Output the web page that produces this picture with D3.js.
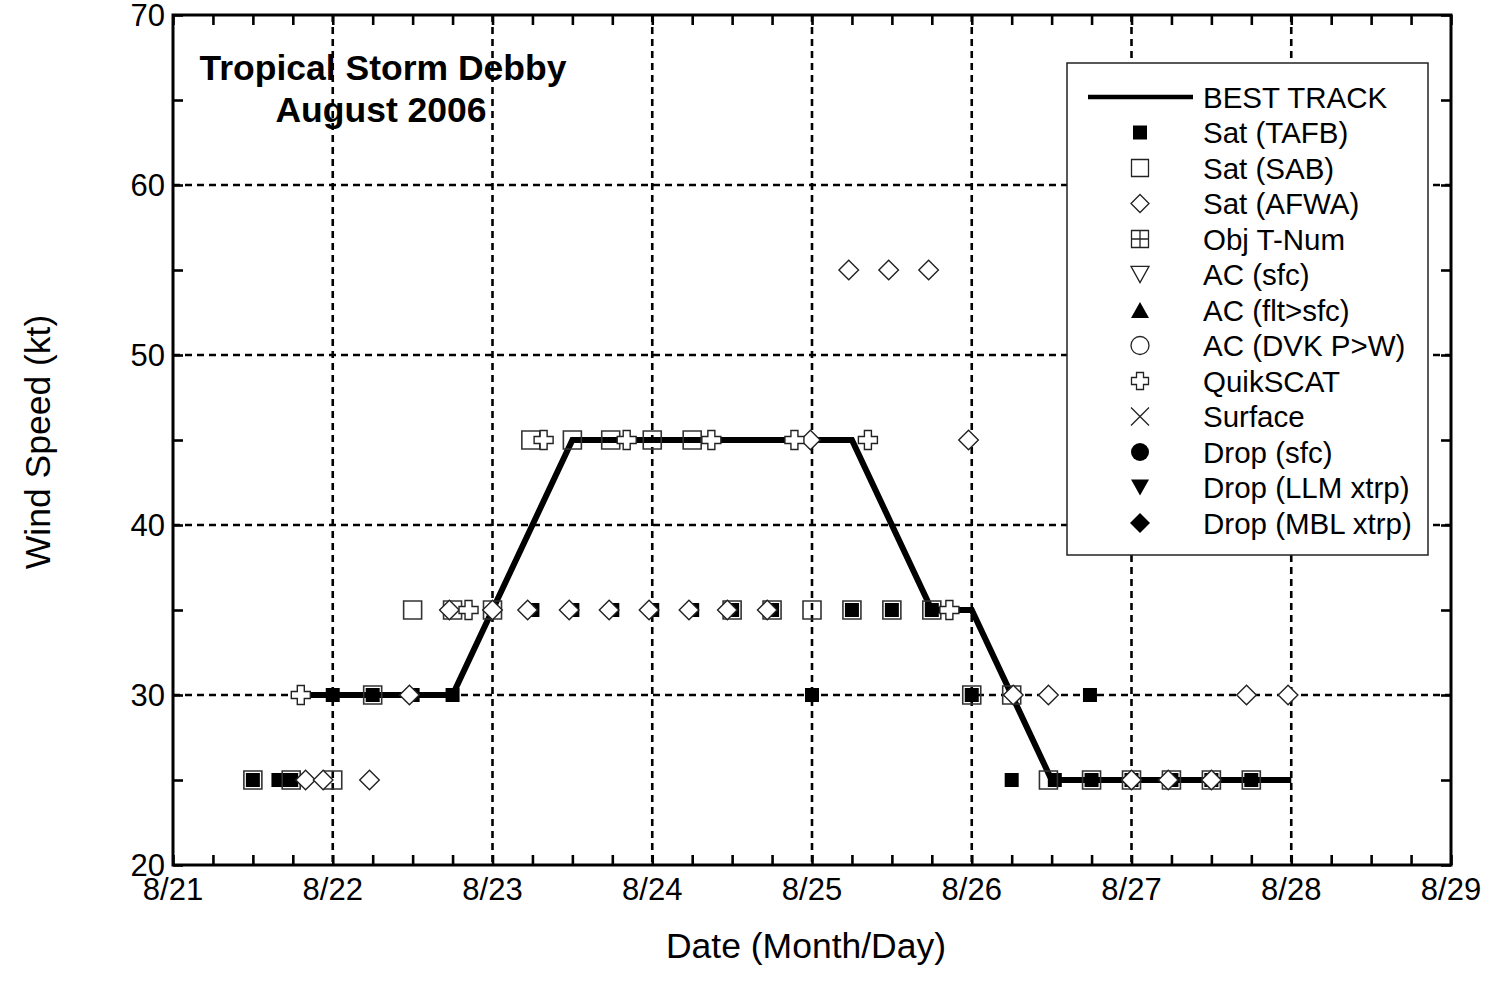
<!DOCTYPE html>
<html><head><meta charset="utf-8">
<script src="https://cdn.jsdelivr.net/npm/d3@7/dist/d3.min.js"></script>
<style>
html,body{margin:0;padding:0;background:#fff;}
svg text{font-family:"Liberation Sans",Arial,sans-serif;fill:#000;}
</style></head>
<body>
<svg id="chart" width="1494" height="998"></svg>
<script>
// ---- DATA (day of August 2006, wind speed kt) ----
const bestTrackDay = [21.75,22.0,22.25,22.5,22.75,23.0,23.25,23.5,23.75,24.0,24.25,24.5,24.75,25.0,25.25,25.5,25.75,26.0,26.25,26.5,26.75,27.0,27.25,27.5,27.75,28.0];
const bestTrackKt  = [30,30,30,30,30,35,40,45,45,45,45,45,45,45,45,40,35,35,30,25,25,25,25,25,25,25];

const tafbDay = [21.5,21.66,21.74,22.0,22.25,22.5,22.75,23.25,23.5,23.75,24.0,24.25,24.5,24.75,25.0,25.25,25.5,25.75,26.0,26.25,26.52,26.74,26.75,27.0,27.25,27.5,27.75];
const tafbKt  = [25,25,25,30,30,30,30,35,35,35,35,35,35,35,30,35,35,35,30,25,25,30,25,25,25,25,25];

const sabDay = [21.5,21.74,22.0,22.25,22.5,22.75,23.0,23.24,23.5,23.74,24.0,24.25,24.5,24.75,25.0,25.25,25.5,25.75,26.0,26.25,26.48,26.75,27.0,27.25,27.5,27.75];
const sabKt  = [25,25,25,30,35,35,35,45,45,45,45,45,35,35,35,35,35,35,30,30,25,25,25,25,25,25];

const afwaDay = [21.83,21.94,22.23,22.48,22.73,23.0,23.22,23.48,23.73,23.98,24.23,24.47,24.72,24.99,25.23,25.48,25.73,25.98,26.26,26.48,27.0,27.23,27.5,27.72,27.98];
const afwaKt  = [25,25,25,30,35,35,35,35,35,35,35,35,35,45,55,55,55,45,30,30,25,25,25,30,30];

const qscatDay = [21.80,22.85,23.32,23.84,24.37,24.89,25.35,25.86];
const qscatKt  = [30,35,45,45,45,45,45,35];

const xTickDays   = [21,22,23,24,25,26,27,28,29];
const xTickLabels = ["8/21","8/22","8/23","8/24","8/25","8/26","8/27","8/28","8/29"];
const yTicks      = [20,30,40,50,60,70];

const legendLabels = ["BEST TRACK","Sat (TAFB)","Sat (SAB)","Sat (AFWA)","Obj T-Num","AC (sfc)","AC (flt>sfc)","AC (DVK P>W)","QuikSCAT","Surface","Drop (sfc)","Drop (LLM xtrp)","Drop (MBL xtrp)"];
const titleLines = ["Tropical Storm Debby","August 2006"];

// ---- LAYOUT ----
const L=173, R=1451, T=15, B=865;
const svg = d3.select("#chart");
const x = d3.scaleLinear().domain([21,29]).range([L,R]);
const y = d3.scaleLinear().domain([20,70]).range([B,T]);

// grid
const g = svg.append("g");
g.selectAll("line.vg").data(xTickDays.slice(1,-1)).enter().append("line")
  .attr("x1",d=>x(d)).attr("x2",d=>x(d)).attr("y1",T).attr("y2",B)
  .attr("stroke","#000").attr("stroke-width",2.6).attr("stroke-dasharray","7,5");
g.selectAll("line.hg").data(yTicks.slice(1,-1)).enter().append("line")
  .attr("y1",d=>y(d)).attr("y2",d=>y(d)).attr("x1",L).attr("x2",R)
  .attr("stroke","#000").attr("stroke-width",2.6).attr("stroke-dasharray","7,5");

// ticks via axes
const minorX = d3.range(21,29.001,0.25);
const minorY = d3.range(20,70.001,5);
const axB = d3.axisBottom(x).tickValues(minorX).tickSize(-10).tickFormat("");
const axT = d3.axisTop(x).tickValues(minorX).tickSize(-10).tickFormat("");
const axL = d3.axisLeft(y).tickValues(minorY).tickSize(-10).tickFormat("");
const axR = d3.axisRight(y).tickValues(minorY).tickSize(-10).tickFormat("");
[[axB,`translate(0,${B})`],[axT,`translate(0,${T})`],[axL,`translate(${L},0)`],[axR,`translate(${R},0)`]].forEach(([a,tr])=>{
  const ag = svg.append("g").attr("transform",tr).call(a);
  ag.select(".domain").remove();
  ag.selectAll(".tick line").attr("stroke","#000").attr("stroke-width",2.6);
});

// tick labels
svg.append("g").selectAll("text").data(xTickDays).enter().append("text")
  .attr("x",d=>x(d)).attr("y",B+35).attr("text-anchor","middle").attr("font-size",31)
  .text((d,i)=>xTickLabels[i]);
svg.append("g").selectAll("text").data(yTicks).enter().append("text")
  .attr("x",L-8).attr("y",d=>y(d)+11).attr("text-anchor","end").attr("font-size",31)
  .text(d=>d);

// axis titles
svg.append("text").attr("x",806).attr("y",958).attr("text-anchor","middle").attr("font-size",35.5).text("Date (Month/Day)");
svg.append("text").attr("transform",`translate(50,442) rotate(-90)`).attr("text-anchor","middle").attr("font-size",35.5).text("Wind Speed (kt)");

// symbols
const sq = s=>`M${-s/2},${-s/2}h${s}v${s}h${-s}Z`;
const dia = r=>`M0,${-r}L${r},0L0,${r}L${-r},0Z`;
const plus = (s,w)=>{const a=s/2,b=w/2;return `M${-b},${-a}H${b}V${-b}H${a}V${b}H${b}V${a}H${-b}V${b}H${-a}V${-b}H${-b}Z`;};

// best track line
const pts = bestTrackDay.map((d,i)=>[d,bestTrackKt[i]]);
svg.append("path").datum(pts)
  .attr("d",d3.line().x(d=>x(d[0])).y(d=>y(d[1])))
  .attr("fill","none").attr("stroke","#000").attr("stroke-width",6).attr("stroke-linejoin","miter");

function marks(days,kts,path,fill,stroke,sw){
  svg.append("g").selectAll("path").data(days.map((d,i)=>[d,kts[i]])).enter().append("path")
    .attr("transform",d=>`translate(${x(d[0])},${y(d[1])})`)
    .attr("d",path).attr("fill",fill).attr("stroke",stroke).attr("stroke-width",sw);
}
marks(tafbDay,tafbKt,sq(14),"#000","none",0);
marks(sabDay,sabKt,sq(18),"none","#333",1.6);
marks(afwaDay,afwaKt,dia(9.8),"#fff","#222",1.4);
marks(qscatDay,qscatKt,plus(19,7),"#fff","#222",1.4);

// frame
svg.append("rect").attr("x",L).attr("y",T).attr("width",R-L).attr("height",B-T)
  .attr("fill","none").attr("stroke","#000").attr("stroke-width",3);

// title
svg.append("text").attr("x",383).attr("y",80).attr("text-anchor","middle").attr("font-size",35.5).attr("font-weight","bold").text(titleLines[0]);
svg.append("text").attr("x",381).attr("y",122).attr("text-anchor","middle").attr("font-size",35.5).attr("font-weight","bold").text(titleLines[1]);

// legend
const lg = svg.append("g");
lg.append("rect").attr("x",1067).attr("y",63).attr("width",361).attr("height",492)
  .attr("fill","#fff").attr("stroke","#222").attr("stroke-width",1.5);
const rowY = i=>97+i*35.5;
const sx = 1140;
lg.append("line").attr("x1",1088).attr("x2",1193).attr("y1",rowY(0)).attr("y2",rowY(0)).attr("stroke","#000").attr("stroke-width",4.5);
const tri = (s,up)=>{const h=s*0.9;return up?`M0,${-h/2}L${s/2},${h/2}L${-s/2},${h/2}Z`:`M0,${h/2}L${s/2},${-h/2}L${-s/2},${-h/2}Z`;};
const legSyms = [
  null,
  {d:sq(14),f:"#000",s:"none"},
  {d:sq(17),f:"none",s:"#222"},
  {d:dia(9),f:"none",s:"#222"},
  {d:sq(17)+"M-8.5,0H8.5M0,-8.5V8.5",f:"none",s:"#222"},
  {d:tri(18,false),f:"none",s:"#222"},
  {d:tri(18,true),f:"#000",s:"none"},
  {d:"M9,0A9,9 0 1,1 -9,0A9,9 0 1,1 9,0Z",f:"none",s:"#222"},
  {d:plus(17,7),f:"none",s:"#222"},
  {d:"M-9,-9L9,9M9,-9L-9,9",f:"none",s:"#222"},
  {d:"M9,0A9,9 0 1,1 -9,0A9,9 0 1,1 9,0Z",f:"#000",s:"none"},
  {d:tri(18,false),f:"#000",s:"none"},
  {d:dia(10),f:"#000",s:"none"}
];
legSyms.forEach((s,i)=>{
  if(!s) return;
  lg.append("path").attr("transform",`translate(${sx},${rowY(i)})`).attr("d",s.d)
    .attr("fill",s.f).attr("stroke",s.s).attr("stroke-width",1.3);
});
lg.selectAll("text").data(legendLabels).enter().append("text")
  .attr("x",1203).attr("y",(d,i)=>rowY(i)+10.5).attr("font-size",29.5).text(d=>d);
</script>
</body></html>
